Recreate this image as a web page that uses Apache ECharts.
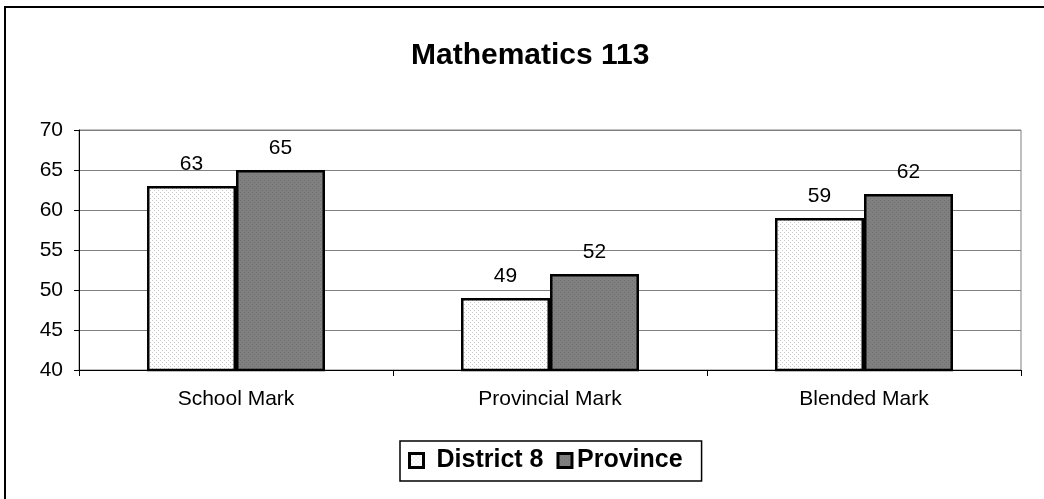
<!DOCTYPE html>
<html>
<head>
<meta charset="utf-8">
<script src="https://cdn.jsdelivr.net/npm/echarts@6/dist/echarts.min.js"></script>
<style>
html,body{margin:0;padding:0;background:#fff;}
#c{width:1044px;height:499px;}
</style>
</head>
<body>
<div id="c"></div>
<script>
const titleText = 'Mathematics 113';
const categories = ['School Mark', 'Provincial Mark', 'Blended Mark'];
const seriesNames = ['District 8', 'Province'];
const district8 = [63, 49, 59];
const province = [65, 52, 62];
const yMin = 40, yMax = 70, yStep = 5;

function makePattern(bg, dot) {
  const cv = document.createElement('canvas');
  cv.width = 4; cv.height = 4;
  const ctx = cv.getContext('2d');
  ctx.fillStyle = bg; ctx.fillRect(0, 0, 4, 4);
  ctx.fillStyle = dot;
  ctx.fillRect(0, 0, 1, 1);
  ctx.fillRect(2, 2, 1, 1);
  return { image: cv, repeat: 'repeat' };
}

const font = "'Liberation Sans', Arial, sans-serif";
const chart = echarts.init(document.getElementById('c'), null, { renderer: 'canvas' });

chart.setOption({
  animation: false,
  backgroundColor: '#fff',
  textStyle: { fontFamily: font },
  graphic: [{
    type: 'rect',
    shape: { x: 5, y: 7, width: 1200, height: 700 },
    style: { fill: 'none', stroke: '#000', lineWidth: 2 },
    silent: true, z: 100
  }],
  title: {
    text: titleText,
    left: 406,
    top: 36,
    textStyle: { fontFamily: font, fontSize: 30, fontWeight: 'bold', color: '#000' }
  },
  legend: {
    data: [
      { name: seriesNames[0], textStyle: { padding: [0, 0, 0, 8] } },
      { name: seriesNames[1] }
    ],
    left: 400,
    top: 441,
    orient: 'horizontal',
    padding: [7, 19, 8, 8],
    itemWidth: 14,
    itemHeight: 14,
    itemGap: 13,
    borderColor: '#000',
    borderWidth: 1.5,
    icon: 'rect',
    textStyle: { fontFamily: font, fontSize: 25, fontWeight: 'bold', color: '#000' },
    itemStyle: { borderColor: '#000', borderWidth: 3 }
  },
  grid: {
    left: 79, right: 23, top: 130, bottom: 129,
    show: true, borderColor: '#808080', borderWidth: 1, backgroundColor: 'transparent'
  },
  xAxis: {
    type: 'category',
    data: categories,
    axisLine: { lineStyle: { color: '#000', width: 1 } },
    axisTick: { show: true, inside: false, length: 6, alignWithLabel: false, lineStyle: { color: '#000' } },
    axisLabel: { fontFamily: font, fontSize: 21, color: '#000', margin: 19 },
    splitLine: { show: false }
  },
  yAxis: {
    type: 'value',
    min: yMin, max: yMax, interval: yStep,
    axisLine: { show: true, lineStyle: { color: '#000', width: 1 } },
    axisTick: { show: true, length: 5, lineStyle: { color: '#000' } },
    axisLabel: { fontFamily: font, fontSize: 21, color: '#000', margin: 16 },
    splitLine: { show: true, lineStyle: { color: '#808080', width: 1 } }
  },
  series: [
    {
      name: seriesNames[0],
      type: 'bar',
      data: district8,
      barWidth: 89,
      barGap: '0%',
      itemStyle: { color: makePattern('#ffffff', '#c8c8c8'), borderColor: '#000', borderWidth: 2.5 },
      label: { show: true, position: 'top', distance: 11, fontFamily: font, fontSize: 21, color: '#000' }
    },
    {
      name: seriesNames[1],
      type: 'bar',
      data: province,
      barWidth: 89,
      barGap: '0%',
      itemStyle: { color: makePattern('#808080', '#6e6e6e'), borderColor: '#000', borderWidth: 2.5 },
      label: { show: true, position: 'top', distance: 11, fontFamily: font, fontSize: 21, color: '#000' }
    }
  ]
});
</script>
</body>
</html>
